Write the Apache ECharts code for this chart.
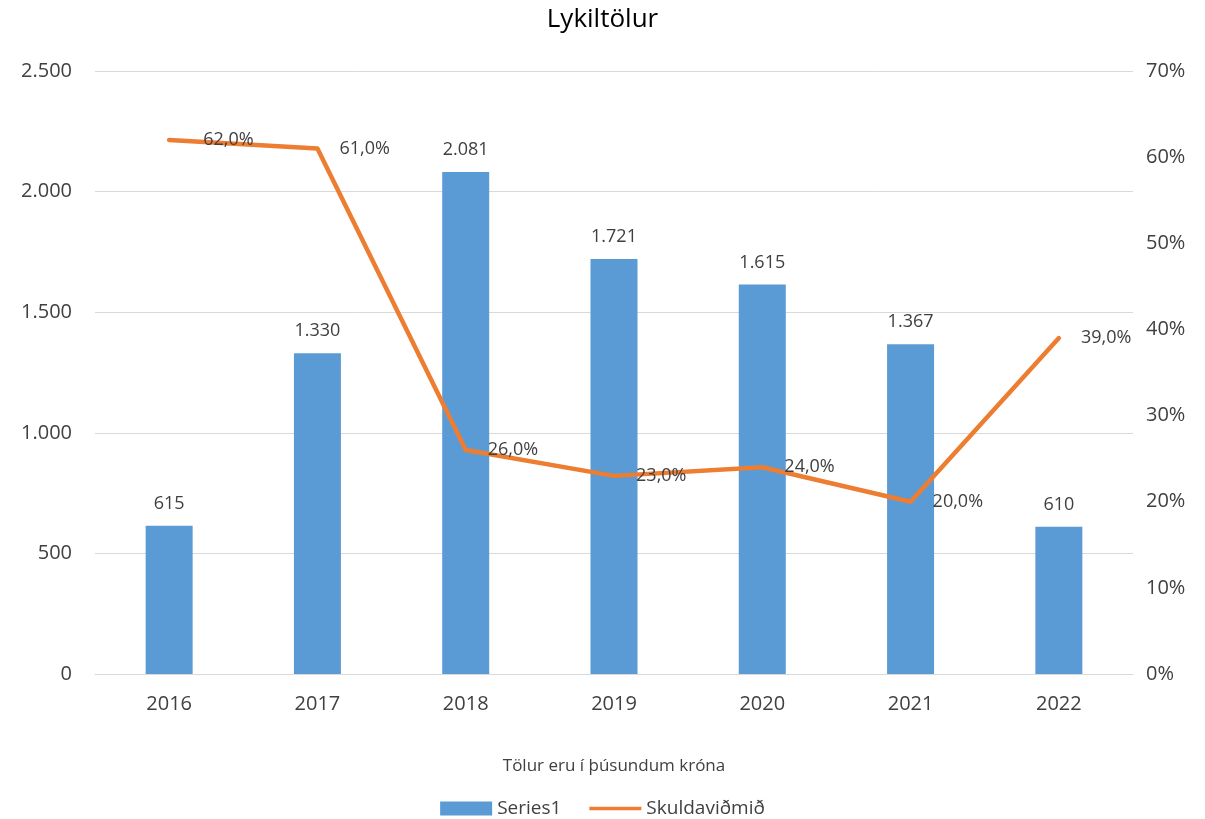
<!DOCTYPE html>
<html>
<head>
<meta charset="utf-8">
<title>Lykiltölur</title>
<script src="https://cdn.jsdelivr.net/npm/echarts@6/dist/echarts.min.js"></script>
<style>
  html, body { margin: 0; padding: 0; background: #fff; }
  #chart { width: 1205px; height: 819px; }
</style>
</head>
<body>
<div id="chart"></div>
<script>
const years = ["2016", "2017", "2018", "2019", "2020", "2021", "2022"];
const series1 = [615, 1330, 2081, 1721, 1615, 1367, 610];
const skuldavidmid = [62, 61, 26, 23, 24, 20, 39]; // %

const FONT = "Open Sans";
const TXT = "#404040";

function isNum(v, dec) {
  // íslensk talnaframsetning: punktur fyrir þúsund, komma fyrir aukastaf
  let s = v.toFixed(dec).split(".");
  s[0] = s[0].replace(/\B(?=(\d{3})+(?!\d))/g, ".");
  return s.join(",");
}

const chart = echarts.init(document.getElementById("chart"));
chart.setOption({
  animation: false,
  textStyle: { fontFamily: FONT },
  title: {
    text: "Lykiltölur",
    left: "center",
    top: 2,
    textStyle: { fontFamily: FONT, fontSize: 26, fontWeight: "normal", color: "#000" }
  },
  legend: {
    top: 794,
    left: "center",
    itemGap: 28,
    textStyle: { fontFamily: FONT, fontSize: 19, color: TXT },
    data: [
      { name: "Series1", icon: "rect" },
      { name: "Skuldaviðmið", icon: "path://M0,0 L56,0 L56,4 L0,4 Z" }
    ],
    itemWidth: 52,
    itemHeight: 14
  },
  grid: { left: 95, right: 72, top: 71, bottom: 145 },
  xAxis: {
    type: "category",
    data: years,
    name: "Tölur eru í þúsundum króna",
    nameLocation: "middle",
    nameGap: 84,
    nameTextStyle: { fontFamily: FONT, fontSize: 17, color: TXT },
    axisLine: { lineStyle: { color: "#D9D9D9" } },
    axisTick: { show: false },
    axisLabel: { fontFamily: FONT, fontSize: 20, color: TXT, margin: 20 }
  },
  yAxis: [
    {
      type: "value",
      min: 0, max: 2500, interval: 500,
      axisLine: { show: false },
      axisTick: { show: false },
      splitLine: { lineStyle: { color: "#D9D9D9" } },
      axisLabel: { fontFamily: FONT, fontSize: 20, color: TXT, margin: 23,
        formatter: v => isNum(v, 0) }
    },
    {
      type: "value",
      min: 0, max: 70, interval: 10,
      axisLine: { show: false },
      axisTick: { show: false },
      splitLine: { show: false },
      axisLabel: { fontFamily: FONT, fontSize: 20, color: TXT, margin: 13,
        formatter: v => v + "%" }
    }
  ],
  series: [
    {
      name: "Series1",
      type: "bar",
      data: series1,
      barWidth: 47,
      itemStyle: { color: "#5B9BD5" },
      label: {
        show: true, position: "top", distance: 13,
        fontFamily: FONT, fontSize: 18, color: TXT,
        formatter: p => isNum(p.value, 0)
      }
    },
    {
      name: "Skuldaviðmið",
      type: "line",
      yAxisIndex: 1,
      // fyrsti merkimiðinn situr aðeins lengra til hægri
      data: skuldavidmid.map((v, i) => i === 0 ? { value: v, label: { distance: 34 } } : v),
      symbol: "circle",
      symbolSize: 0.1,
      lineStyle: { color: "#ED7D31", width: 4.5, join: "round", cap: "round" },
      itemStyle: { color: "#ED7D31" },
      label: {
        show: true, position: "right", distance: 22,
        fontFamily: FONT, fontSize: 18, color: TXT,
        formatter: p => isNum(p.value, 1) + "%"
      }
    }
  ]
});
</script>
</body>
</html>
